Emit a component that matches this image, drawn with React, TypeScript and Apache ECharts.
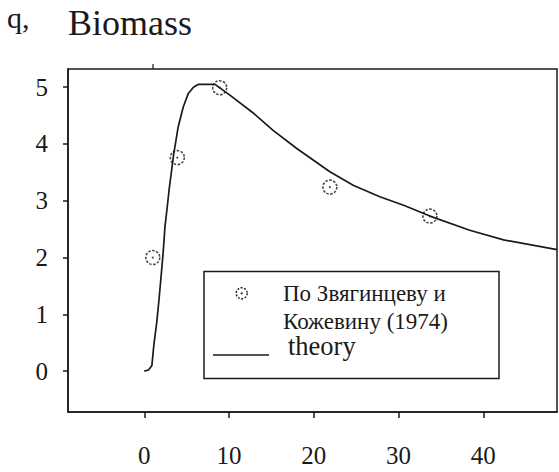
import React, { useEffect, useRef } from "react";
import * as echarts from "echarts";

const xTicks = [0, 10, 20, 30, 40];
const yTicks = [0, 1, 2, 3, 4, 5];

const obsX = [1.0, 3.9, 8.9, 21.9, 33.7];
const obsY = [2.0, 3.76, 4.99, 3.24, 2.73];

const theoryX = [0, 0.5, 0.9, 1.15, 1.46, 1.77, 2.05, 2.25, 2.44, 2.71, 2.95, 3.23, 3.45, 4.0, 4.6, 5.2, 5.8, 6.4, 8.35, 10.1, 12.9, 15.2, 18.0, 21.9, 24.7, 27.8, 30.6, 33.7, 38.4, 42.4, 48.7];
const theoryY = [0, 0.02, 0.1, 0.49, 0.84, 1.31, 1.78, 2.13, 2.54, 2.89, 3.22, 3.54, 3.8, 4.3, 4.65, 4.89, 5.0, 5.05, 5.05, 4.86, 4.54, 4.24, 3.92, 3.51, 3.27, 3.07, 2.92, 2.73, 2.48, 2.31, 2.14];

const titleText = "Biomass";
const yName = "q,";
const legendObs = ["По Звягинцеву и", "Кожевину (1974)"];
const legendTheory = "theory";

const FONT = "Liberation Serif, Times New Roman, serif";
const INK = "#1a1a1a";

export default function App() {
  const ref = useRef<HTMLDivElement>(null);
  useEffect(() => {
    if (!ref.current) return;
    const chart = echarts.init(ref.current, null, { renderer: "svg" });
    const obs = obsX.map((x, i) => [x, obsY[i]]);
    const theory = theoryX.map((x, i) => [x, theoryY[i]]);
    const txt = (text: string, x: number, y: number, size: number) => ({
      type: "text",
      x,
      y,
      z: 11,
      style: {
        text,
        fontFamily: FONT,
        fontSize: size,
        fill: INK,
        align: "left",
        verticalAlign: "middle",
      },
    });
    chart.setOption({
      animation: false,
      backgroundColor: "#ffffff",
      textStyle: { fontFamily: FONT },
      grid: {
        left: 68,
        top: 69,
        width: 489,
        height: 343,
        show: true,
        borderColor: INK,
        borderWidth: 1.5,
        backgroundColor: "transparent",
      },
      xAxis: {
        type: "value",
        min: -9,
        max: 48.7,
        splitLine: { show: false },
        axisLine: { show: true, onZero: false, lineStyle: { color: INK, width: 1.5 } },
        axisTick: { show: true, length: 6, customValues: xTicks, lineStyle: { color: INK, width: 1.5 } },
        axisLabel: {
          customValues: xTicks,
          margin: 31,
          fontFamily: FONT,
          fontSize: 25,
          color: INK,
        },
      },
      yAxis: {
        type: "value",
        min: -0.72,
        max: 5.32,
        splitLine: { show: false },
        axisLine: { show: true, onZero: false, lineStyle: { color: INK, width: 1.5 } },
        axisTick: { show: true, length: 5, customValues: yTicks, lineStyle: { color: INK, width: 1.5 } },
        axisLabel: {
          customValues: yTicks,
          margin: 20,
          fontFamily: FONT,
          fontSize: 25,
          color: INK,
        },
      },
      series: [
        {
          type: "line",
          data: theory,
          showSymbol: false,
          symbol: "none",
          lineStyle: { color: INK, width: 1.7 },
          z: 2,
        },
        {
          type: "scatter",
          data: obs,
          symbol: "circle",
          symbolSize: 14,
          itemStyle: { color: "transparent", borderColor: INK, borderWidth: 1.6, borderType: [2.5, 1.5] },
          z: 3,
        },
        {
          type: "scatter",
          data: obs,
          symbol: "circle",
          symbolSize: 2,
          itemStyle: { color: INK },
          z: 4,
        },
      ],
      graphic: [
        txt(yName, 7, 17, 30),
        txt(titleText, 68, 23, 36),
        {
          type: "line",
          shape: { x1: 153, y1: 64, x2: 153, y2: 69 },
          style: { stroke: INK, lineWidth: 1.2 },
        },
        {
          type: "rect",
          shape: { x: 204, y: 271.5, width: 295, height: 107 },
          style: { fill: "#ffffff", stroke: INK, lineWidth: 1.5 },
          z: 10,
        },
        {
          type: "circle",
          shape: { cx: 241.7, cy: 293.3, r: 5.5 },
          style: { fill: "transparent", stroke: INK, lineWidth: 1.4, lineDash: [2, 1.5] },
          z: 11,
        },
        {
          type: "circle",
          shape: { cx: 241.7, cy: 293.3, r: 1 },
          style: { fill: INK },
          z: 11,
        },
        txt(legendObs[0], 283, 293.5, 23),
        txt(legendObs[1], 283, 321, 23),
        {
          type: "line",
          shape: { x1: 213, y1: 355, x2: 269, y2: 355 },
          style: { stroke: INK, lineWidth: 1.6 },
          z: 11,
        },
        txt(legendTheory, 288, 346.3, 26.5),
      ],
    });
    return () => chart.dispose();
  }, []);
  return (
    <div
      ref={ref}
      style={{ position: "fixed", left: 0, top: 0, width: 559, height: 472, background: "#fff" }}
    />
  );
}
